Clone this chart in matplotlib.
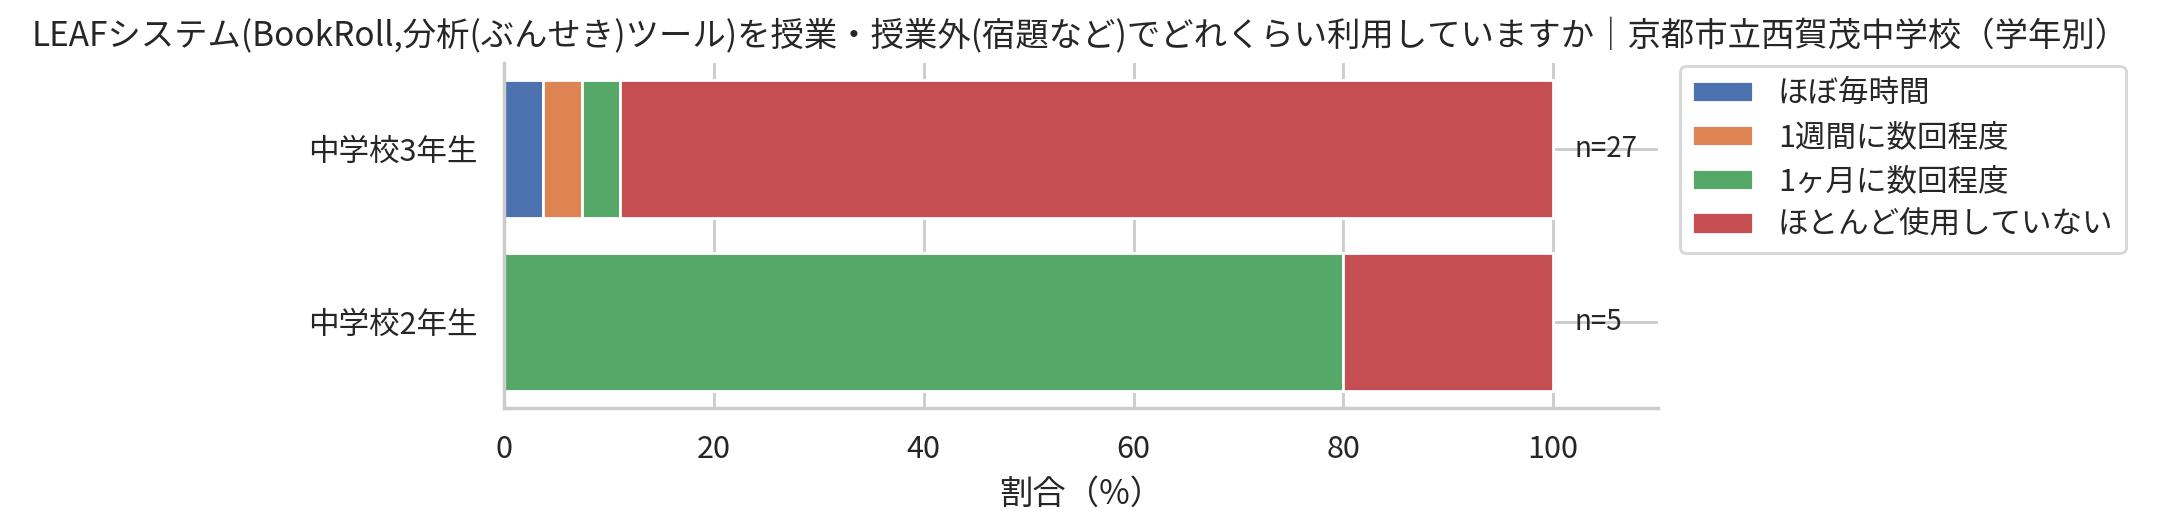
import matplotlib
matplotlib.use("Agg")
from matplotlib import pyplot as plt
import seaborn as sns
import numpy as np

grades = ["中学校2年生", "中学校3年生"]
counts = [5, 27]
answers = ["ほぼ毎時間", "1週間に数回程度", "1ヶ月に数回程度", "ほとんど使用していない"]
# percentage per answer, one value per grade (2年生, 3年生)
pct = {
    "ほぼ毎時間": [0.0, 3.7],
    "1週間に数回程度": [0.0, 3.7],
    "1ヶ月に数回程度": [80.0, 3.7],
    "ほとんど使用していない": [20.0, 88.9],
}
title = "LEAFシステム(BookRoll,分析(ぶんせき)ツール)を授業・授業外(宿題など)でどれくらい利用していますか｜京都市立西賀茂中学校（学年別）"

sns.set_theme(style="whitegrid")
plt.rcParams['font.family'] = ['Noto Sans CJK JP', 'DejaVu Sans']

colors = sns.color_palette("deep")
fig, ax = plt.subplots(figsize=(10.805, 2.63), dpi=200)
fig.subplots_adjust(left=0.2332, right=0.7673, top=0.8802, bottom=0.2243)

y = np.arange(len(grades))
left = np.zeros(len(grades))
for i, a in enumerate(answers):
    vals = np.array(pct[a])
    ax.barh(y, vals, left=left, height=0.8, color=colors[i], edgecolor='white',
            linewidth=1, label=a, zorder=2)
    left += vals

for yi, n in zip(y, counts):
    ax.text(102, yi, "n={}".format(n), va='center', ha='left', fontsize=10, color='.15')

ax.set_yticks(y)
ax.set_yticklabels(grades)
ax.set_xlim(0, 110)
ax.set_ylim(-0.5, 1.5)
ax.set_xticks([0, 20, 40, 60, 80, 100])
ax.set_xlabel("割合（%）")
sns.despine(ax=ax)
ax.legend(loc='upper left', bbox_to_anchor=(1.019, 0.991), borderaxespad=0,
          labelspacing=0.42)
fig.suptitle(title, fontsize=12, x=0.5, y=0.965, color='.15')

plt.savefig("out.png")
